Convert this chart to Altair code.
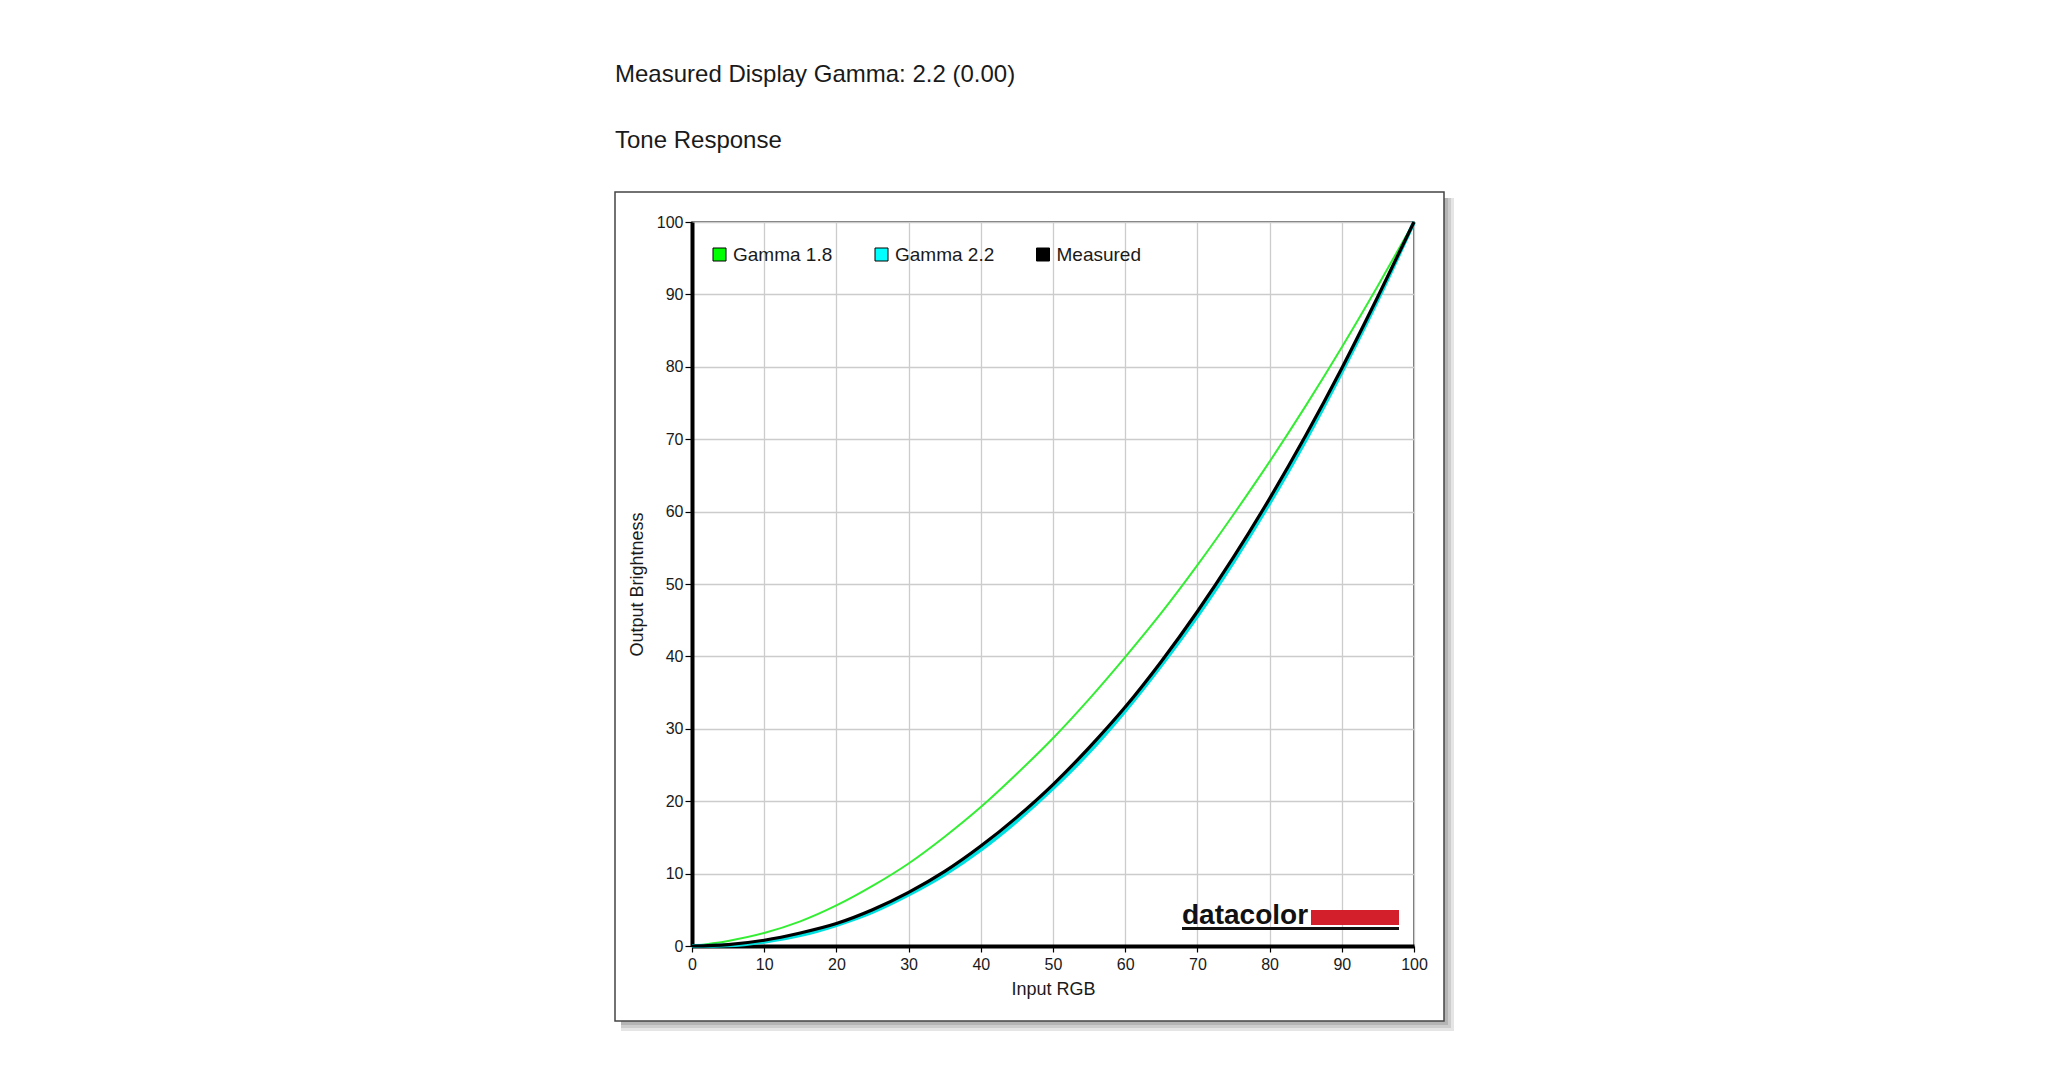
import altair as alt
import pandas as pd

# ---- data ----
input_rgb = [0, 5, 10, 15, 20, 25, 30, 35, 40, 45, 50, 55, 60, 65, 70, 75, 80, 85, 90, 95, 100]
gamma_18 = [0, 0.7, 1.8, 3.4, 5.6, 8.3, 11.4, 15.1, 19.2, 23.8, 28.7, 34.1, 39.9, 46.0, 52.6, 59.6, 66.9, 74.6, 82.7, 91.2, 100]
gamma_22 = [0, 0.1, 0.6, 1.5, 2.9, 4.7, 7.1, 9.9, 13.3, 17.3, 21.8, 26.8, 32.5, 38.8, 45.6, 53.1, 61.2, 69.9, 79.3, 89.3, 100]
measured = [0, 0.2, 0.8, 1.8, 3.1, 5.0, 7.4, 10.3, 13.8, 17.8, 22.3, 27.4, 33.0, 39.3, 46.2, 53.7, 61.8, 70.5, 79.8, 89.7, 100]

series_names = ["Gamma 1.8", "Gamma 2.2", "Measured"]
line_colors = ["#33ee33", "#00e0e0", "#000000"]
swatch_colors = ["#00ff00", "#00ffff", "#000000"]
line_widths = [2, 4, 3.2]
x_ticks = [0, 10, 20, 30, 40, 50, 60, 70, 80, 90, 100]
y_ticks = [0, 10, 20, 30, 40, 50, 60, 70, 80, 90, 100]

title_main = "Measured Display Gamma: 2.2 (0.00)"
title_sub = "Tone Response"
x_title = "Input RGB"
y_title = "Output Brightness"

FONT = "Liberation Sans"
TXT = "#1a1a1a"

W, H = 722, 724
PAD_L, PAD_T = 692, 222

series_values = [gamma_18, gamma_22, measured]
rows = []
for name, vals in zip(series_names, series_values):
    for xv, yv in zip(input_rgb, vals):
        rows.append({"series": name, "input": xv, "output": yv})
df = pd.DataFrame(rows)

one = pd.DataFrame({"k": [0]})

x_enc = alt.X(
    "input:Q",
    scale=alt.Scale(domain=[0, 100], nice=False, zero=False),
    axis=alt.Axis(values=x_ticks, title=x_title, format="d", labelFlush=False),
)
y_enc = alt.Y(
    "output:Q",
    scale=alt.Scale(domain=[0, 100], nice=False, zero=False),
    axis=alt.Axis(values=y_ticks, title=y_title, format="d", labelFlush=False),
)

layers = []

# frame shadow
for w, op in [(10, 0.10), (7, 0.10), (4, 0.12)]:
    layers.append(
        alt.Chart(one).mark_rect(color="#000000", opacity=op).encode(
            x=alt.value(752), x2=alt.value(752 + w),
            y=alt.value(-30 + 6), y2=alt.value(799 + w),
        )
    )
    layers.append(
        alt.Chart(one).mark_rect(color="#000000", opacity=op).encode(
            x=alt.value(-77 + 6), x2=alt.value(752),
            y=alt.value(799), y2=alt.value(799 + w),
        )
    )
# frame
layers.append(
    alt.Chart(one).mark_rect(fill="#ffffff", fillOpacity=0, stroke="#444444", strokeWidth=1.5).encode(
        x=alt.value(-77), x2=alt.value(752), y=alt.value(-30), y2=alt.value(799)
    )
)

# curves
for name, col, lw in zip(series_names, line_colors, line_widths):
    layers.append(
        alt.Chart(df[df["series"] == name]).mark_line(
            color=col, strokeWidth=lw, interpolate="monotone"
        ).encode(x=x_enc, y=y_enc)
    )

# legend
swatch_x = [27.5, 189.5, 351]
for name, col, sx in zip(series_names, swatch_colors, swatch_x):
    layers.append(
        alt.Chart(one).mark_square(size=169, fill=col, stroke="#000000", strokeWidth=1, opacity=1).encode(
            x=alt.value(sx), y=alt.value(32.5)
        )
    )
    layers.append(
        alt.Chart(one).mark_text(
            text=name, align="left", baseline="middle", font=FONT, fontSize=19, color=TXT
        ).encode(x=alt.value(sx + 13.5), y=alt.value(33))
    )

# datacolor logo
layers.append(
    alt.Chart(one).mark_text(
        text="datacolor", align="left", baseline="alphabetic", font=FONT,
        fontSize=28, fontWeight="bold", color="#111111"
    ).encode(x=alt.value(490), y=alt.value(702))
)
layers.append(
    alt.Chart(one).mark_rect(color="#d21f2b").encode(
        x=alt.value(619), x2=alt.value(707), y=alt.value(688), y2=alt.value(703)
    )
)
layers.append(
    alt.Chart(one).mark_rect(color="#111111").encode(
        x=alt.value(490), x2=alt.value(707), y=alt.value(705), y2=alt.value(708)
    )
)

# page titles
layers.append(
    alt.Chart(one).mark_text(
        text=title_main, align="left", baseline="alphabetic", font=FONT, fontSize=24, color=TXT
    ).encode(x=alt.value(-77), y=alt.value(-140))
)
layers.append(
    alt.Chart(one).mark_text(
        text=title_sub, align="left", baseline="alphabetic", font=FONT, fontSize=24, color=TXT
    ).encode(x=alt.value(-77), y=alt.value(-74))
)

chart = alt.layer(*layers).properties(
    width=W, height=H,
    autosize=alt.AutoSizeParams(type="none"),
    padding={"left": PAD_L, "top": PAD_T, "right": 2048 - PAD_L - W, "bottom": 1075 - PAD_T - H},
    background="#ffffff",
).configure_view(
    stroke="#444444", strokeWidth=1.5
).configure_axis(
    grid=True, gridColor="#cccccc", gridWidth=1.3,
    domainColor="#000000", domainWidth=4,
    tickColor="#000000", tickWidth=1.2,
    labelFont=FONT, labelFontSize=16, labelColor=TXT,
    titleFont=FONT, titleFontSize=18, titleFontWeight="normal", titleColor=TXT,
).configure_axisX(
    tickSize=6, labelPadding=4, titlePadding=8,
).configure_axisY(
    tickSize=7, labelPadding=2, titlePadding=10,
)

chart.save("out.html", embed_options={"renderer": "svg", "actions": False})
